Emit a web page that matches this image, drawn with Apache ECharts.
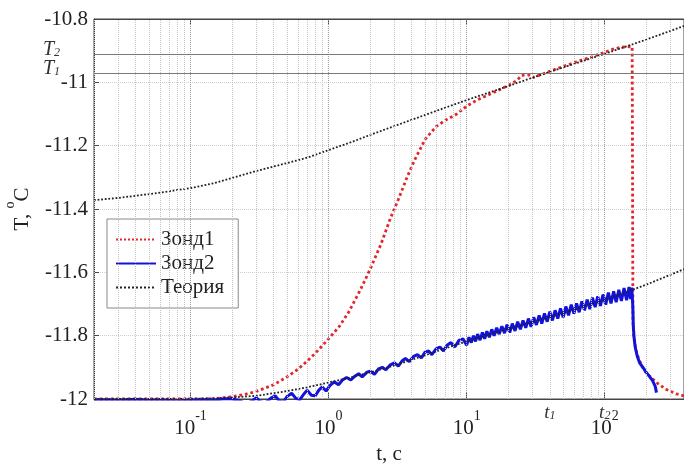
<!DOCTYPE html>
<html>
<head>
<meta charset="utf-8">
<script src="https://cdn.jsdelivr.net/npm/echarts@6/dist/echarts.min.js"></script>
<style>
  html, body { margin: 0; padding: 0; background: #fff; }
  #chart { width: 684px; height: 464px; }
</style>
</head>
<body>
<div id="chart"></div>
<script>
// values: time in s, temperature in °C
const probe1T = [0.02, 0.05, 0.1, 0.15, 0.2, 0.25, 0.3, 0.4, 0.5, 0.6, 0.7, 0.8, 1.0, 1.2, 1.4, 1.7, 2.0, 2.4, 2.8, 3.2, 3.7, 4.2, 5.0, 6.0, 7.0, 8.5, 10, 12, 15, 20, 23, 25, 28, 30, 35, 40, 50, 60, 70, 80, 90, 100, 115, 130, 145, 158, 159, 160, 162, 170, 185, 200, 240, 280, 330, 375];
const probe1V = [-12.0, -12.0, -12.0, -11.999, -11.993, -11.985, -11.976, -11.955, -11.93, -11.906, -11.88, -11.856, -11.81, -11.77, -11.725, -11.655, -11.59, -11.51, -11.43, -11.37, -11.3, -11.245, -11.18, -11.14, -11.12, -11.1, -11.075, -11.055, -11.036, -11.01, -10.995, -10.978, -10.976, -10.985, -10.975, -10.965, -10.95, -10.938, -10.928, -10.92, -10.912, -10.905, -10.895, -10.89, -10.887, -10.888, -11.3, -11.75, -11.8, -11.855, -11.895, -11.918, -11.95, -11.97, -11.984, -11.99];

const probe2T = [0.02, 0.03, 0.04, 0.05, 0.06, 0.08, 0.1, 0.12, 0.15, 0.18, 0.2, 0.22, 0.24, 0.26, 0.28, 0.30, 0.32, 0.35, 0.38, 0.41, 0.44, 0.47, 0.5, 0.54, 0.58, 0.62, 0.66, 0.7, 0.75, 0.8, 0.85, 0.9, 0.96, 1.02, 1.1, 1.18, 1.26, 1.35, 1.45, 1.55, 1.65, 1.75, 1.9, 2.0, 2.15, 2.3, 2.45, 2.6, 2.8, 3.0, 3.2, 3.4, 3.6, 3.85, 4.1, 4.4, 4.7, 5.0, 5.3, 5.6, 6.0, 6.4, 6.8, 7.2, 7.7, 8.2, 8.8, 9.4,
  10, 10.4, 10.8, 11.2, 11.6, 12, 12.5, 13, 13.5, 14, 14.6, 15.2, 15.8, 16.5, 17.2, 18, 18.8, 19.6, 20.5, 21.4, 22.4, 23.4, 24.5, 25.6, 26.8, 28, 29.3, 30.6, 32, 33.5, 35, 36.6, 38.3, 40, 41.8, 43.7, 45.7, 47.8, 50, 52.3, 54.7, 57.2, 59.8, 62.5, 65.3, 68.3, 71.4, 74.6, 78, 81.5, 85.2, 89, 93, 97.2, 101.6, 106.2, 111, 116, 121, 126.5, 132, 138, 144, 150, 154, 157, 159,
  160, 161, 163, 166, 172, 179, 190, 200, 212, 222, 232, 237];
const probe2V = [-12.002, -12.004, -12.001, -12.005, -12.003, -12.006, -12.004, -12.002, -12.003, -11.999, -12.0, -12.004, -12.01, -12.013, -12.006, -11.996, -12.009, -12.012, -11.998, -11.99, -12.006, -12.01, -11.992, -11.982, -11.998, -12.002, -11.985, -11.972, -11.988, -11.99, -11.972, -11.962, -11.975, -11.958, -11.946, -11.955, -11.94, -11.932, -11.94, -11.928, -11.92, -11.93, -11.915, -11.912, -11.922, -11.905, -11.9, -11.908, -11.892, -11.886, -11.896, -11.88, -11.872, -11.882, -11.866, -11.86, -11.87, -11.852, -11.848, -11.86, -11.842, -11.836, -11.848, -11.83, -11.822, -11.836, -11.815, -11.81,
  -11.83, -11.805, -11.822, -11.8, -11.818, -11.795, -11.814, -11.79, -11.81, -11.786, -11.805, -11.78, -11.8, -11.775, -11.795, -11.77, -11.792, -11.765, -11.79, -11.762, -11.785, -11.756, -11.78, -11.752, -11.775, -11.746, -11.772, -11.742, -11.766, -11.736, -11.762, -11.73, -11.756, -11.724, -11.752, -11.72, -11.746, -11.714, -11.742, -11.708, -11.736, -11.702, -11.73, -11.698, -11.726, -11.692, -11.72, -11.686, -11.716, -11.68, -11.71, -11.676, -11.706, -11.67, -11.702, -11.664, -11.698, -11.66, -11.694, -11.655, -11.69, -11.65, -11.688, -11.646, -11.684, -11.648, -11.69,
  -11.72, -11.77, -11.805, -11.835, -11.865, -11.886, -11.902, -11.916, -11.93, -11.942, -11.96, -11.98];

const theoryT = [0.02, 0.03, 0.05, 0.07, 0.1, 0.15, 0.2, 0.3, 0.5, 0.7, 1, 1.5, 2, 3, 5, 7, 10, 20, 30, 50, 100, 200, 375];
const theoryHigh = [-11.372, -11.365, -11.353, -11.344, -11.334, -11.318, -11.302, -11.28, -11.255, -11.238, -11.214, -11.187, -11.166, -11.138, -11.103, -11.08, -11.056, -11.012, -10.985, -10.953, -10.91, -10.865, -10.822];
const theoryLow = [-12.0, -12.0, -12.0, -12.0, -11.999, -11.998, -11.995, -11.99, -11.975, -11.963, -11.948, -11.93, -11.916, -11.894, -11.862, -11.84, -11.818, -11.779, -11.757, -11.729, -11.687, -11.639, -11.59];

const levelT1 = -10.97, levelT2 = -10.914;
const timeT1 = 40, timeT2 = 100;

const decades = [0.1, 1, 10, 100];
const gridTimes = [0.02, 0.03, 0.04, 0.05, 0.06, 0.07, 0.08, 0.09,
  0.2, 0.3, 0.4, 0.5, 0.6, 0.7, 0.8, 0.9,
  2, 3, 4, 5, 6, 7, 8, 9,
  20, 30, 40, 50, 60, 70, 80, 90,
  200, 300];

const serif = '"Liberation Serif", "DejaVu Serif", serif';
const zip = (xs, ys) => xs.map((x, i) => [x, ys[i]]);

const chart = echarts.init(document.getElementById('chart'));

const xBase = {
  type: 'log',
  logBase: 10,
  min: 0.02,
  max: 375,
  axisLine: { lineStyle: { color: '#444', width: 1 } },
  axisTick: { inside: true, length: 6, lineStyle: { color: '#444' } },
  splitLine: { show: false }
};

chart.setOption({
  animation: false,
  grid: { left: 94, right: 0, top: 19, bottom: 65, outerBoundsMode: 'none', show: true, borderColor: '#444', borderWidth: 1 },
  legend: {
    orient: 'vertical',
    left: 107,
    top: 219,
    data: ['Зонд1', 'Зонд2', 'Теория'],
    itemWidth: 40,
    itemHeight: 12,
    itemGap: 3,
    padding: [10, 14, 10, 8],
    backgroundColor: '#fff',
    borderColor: '#888',
    borderWidth: 1,
    itemStyle: { opacity: 0 },
    textStyle: { fontFamily: serif, fontSize: 21, lineHeight: 21, color: '#222' }
  },
  xAxis: [
    Object.assign({}, xBase, {
      position: 'bottom',
      name: 't, c',
      nameLocation: 'middle',
      nameGap: 38,
      nameTextStyle: { fontFamily: serif, fontSize: 21, color: '#222' },
      axisLabel: {
        margin: 10,
        showMinLabel: false,
        showMaxLabel: false,
        formatter: function (v) {
          const e = Math.round(Math.log10(v));
          if (decades.indexOf(Math.pow(10, e)) < 0 || Math.abs(v / Math.pow(10, e) - 1) > 1e-6) return '';
          return '{b|10}{e|' + e + '}';
        },
        rich: {
          b: { fontFamily: serif, fontSize: 21, color: '#222', lineHeight: 30, verticalAlign: 'bottom' },
          e: { fontFamily: serif, fontSize: 14, color: '#222', lineHeight: 14, verticalAlign: 'top' }
        }
      }
    }),
    Object.assign({}, xBase, { position: 'top', axisLabel: { show: false } })
  ],
  yAxis: {
    type: 'value',
    min: -12,
    max: -10.8,
    interval: 0.2,
    name: '{a|T, }{s|o}{a|C}',
    nameLocation: 'middle',
    nameGap: 52,
    nameTextStyle: {
      rich: {
        a: { fontFamily: serif, fontSize: 21, color: '#222', lineHeight: 30, verticalAlign: 'bottom' },
        s: { fontFamily: serif, fontSize: 14, color: '#222', lineHeight: 14, verticalAlign: 'top' }
      }
    },
    axisLine: { show: true, lineStyle: { color: '#444', width: 1 } },
    axisTick: { show: true, inside: true, length: 5, lineStyle: { color: '#444' } },
    axisLabel: { margin: 6, fontFamily: serif, fontSize: 21, color: '#222' },
    splitLine: { show: true, lineStyle: { color: '#cfcfcf', type: 'dotted', width: 1 } }
  },
  series: [
    {
      name: 'grid',
      type: 'line',
      data: [],
      silent: true,
      markLine: {
        silent: true,
        symbol: 'none',
        label: { show: false },
        lineStyle: { color: '#c4c4c4', type: 'dotted', width: 1 },
        data: gridTimes.map(t => ({ xAxis: t })).concat(
          decades.map(t => ({ xAxis: t, lineStyle: { color: '#9a9a9a', type: 'dotted', width: 1 } })))
      }
    },
    {
      name: 'levels',
      type: 'line',
      data: [],
      silent: true,
      markLine: {
        silent: true,
        symbol: 'none',
        lineStyle: { color: '#7a7a7a', type: 'solid', width: 1 },
        label: {
          show: true,
          position: 'start',
          distance: 34,
          padding: [0, 0, 9, 0],
          rich: {
            i: { fontFamily: serif, fontStyle: 'italic', fontSize: 20, color: '#333' },
            s: { fontFamily: serif, fontStyle: 'italic', fontSize: 12, color: '#333', verticalAlign: 'bottom', lineHeight: 18 }
          }
        },
        data: [
          { yAxis: levelT2, label: { formatter: '{i|T}{s|2}' } },
          { yAxis: levelT1, label: { formatter: '{i|T}{s|1}' } }
        ]
      }
    },
    {
      name: 'times',
      type: 'line',
      data: [],
      silent: true,
      markLine: {
        silent: true,
        symbol: 'none',
        lineStyle: { color: 'rgba(0,0,0,0)', width: 0 },
        label: {
          show: true,
          position: 'start',
          distance: 4,
          rich: {
            i: { fontFamily: serif, fontStyle: 'italic', fontSize: 19, color: '#333' },
            s: { fontFamily: serif, fontStyle: 'italic', fontSize: 12, color: '#333', verticalAlign: 'bottom', lineHeight: 18 }
          }
        },
        data: [
          { xAxis: timeT1, label: { formatter: '{i|t}{s|1}' } },
          { xAxis: timeT2, label: { formatter: '{i|t}{s|2}' } }
        ]
      }
    },
    {
      name: 'Зонд1',
      type: 'line',
      data: zip(probe1T, probe1V),
      symbol: 'none',
      color: '#e2262b',
      lineStyle: { color: '#e2262b', width: 2.8, type: 'dotted' }
    },
    {
      name: 'Зонд2',
      type: 'line',
      data: zip(probe2T, probe2V),
      symbol: 'none',
      color: '#1212dc',
      lineStyle: { color: '#1212dc', width: 3 }
    },
    {
      name: 'Теория',
      type: 'line',
      data: zip(theoryT, theoryHigh),
      symbol: 'none',
      color: '#222',
      lineStyle: { color: '#222', width: 1.8, type: 'dotted' }
    },
    {
      name: 'Теория',
      type: 'line',
      data: zip(theoryT, theoryLow),
      symbol: 'none',
      color: '#222',
      lineStyle: { color: '#222', width: 1.8, type: 'dotted' }
    }
  ]
});
</script>
</body>
</html>
